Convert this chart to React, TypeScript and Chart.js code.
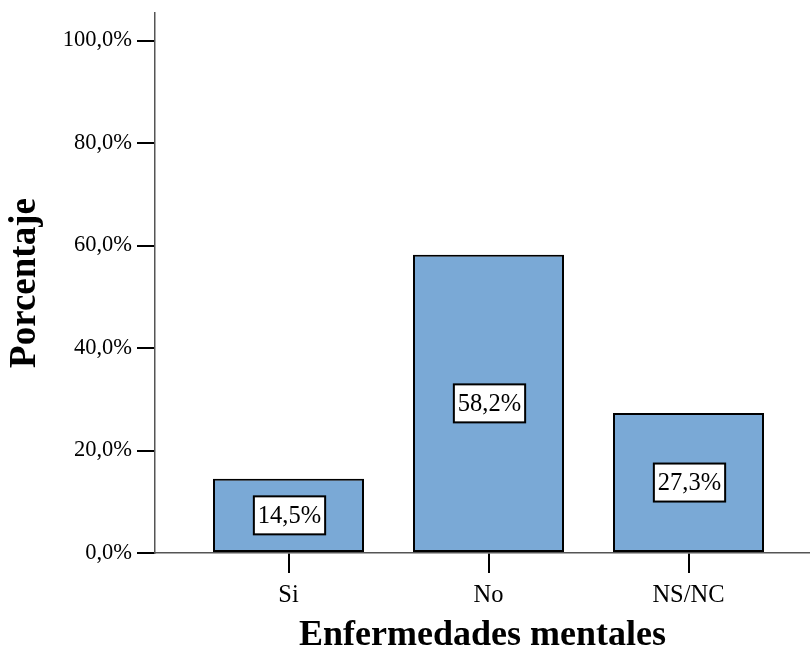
import React, { useEffect, useRef } from "react";
import { Chart, registerables } from "chart.js";

Chart.register(...registerables);

const categories = ["Si", "No", "NS/NC"];
const percentages = [14.5, 58.2, 27.3];
const valueLabels = ["14,5%", "58,2%", "27,3%"];
const yTickValues = [0, 20, 40, 60, 80, 100];
const xTitle = "Enfermedades mentales";
const yTitle = "Porcentaje";

const SERIF = "'Times New Roman', 'Liberation Serif', serif";

const boxLabelPlugin = {
  id: "boxLabels",
  afterDatasetsDraw(chart: any) {
    const ctx = chart.ctx;
    const meta = chart.getDatasetMeta(0);
    ctx.save();
    ctx.font = `24.5px ${SERIF}`;
    ctx.textAlign = "center";
    ctx.textBaseline = "middle";
    meta.data.forEach((bar: any, i: number) => {
      const text = valueLabels[i];
      const cx = bar.x + 1;
      const cy = (bar.y + bar.base) / 2;
      const w = ctx.measureText(text).width + 8;
      const h = 38;
      ctx.fillStyle = "#ffffff";
      ctx.fillRect(cx - w / 2, cy - h / 2, w, h);
      ctx.lineWidth = 2;
      ctx.strokeStyle = "#000000";
      ctx.strokeRect(cx - w / 2, cy - h / 2, w, h);
      ctx.fillStyle = "#000000";
      ctx.fillText(text, cx, cy + 1);
    });
    ctx.restore();
  },
};

export default function App() {
  const canvasRef = useRef<HTMLCanvasElement | null>(null);

  useEffect(() => {
    if (!canvasRef.current) return;
    const chart = new Chart(canvasRef.current, {
      type: "bar",
      data: {
        datasets: [
          {
            data: percentages.map((v, i) => ({ x: i, y: v })),
            backgroundColor: "#7aa9d6",
            borderColor: "#000000",
            borderWidth: 2,
            borderSkipped: false,
            barPercentage: 0.755,
            categoryPercentage: 1,
          },
        ],
      },
      options: {
        animation: false,
        responsive: false,
        devicePixelRatio: 1,
        layout: { padding: { top: 13, right: 0, left: 0, bottom: 0 } },
        plugins: {
          legend: { display: false },
          tooltip: { enabled: false },
        },
        scales: {
          x: {
            type: "linear",
            offset: false,
            min: -0.6675,
            max: 2.6075,
            afterBuildTicks: (scale: any) => {
              scale.ticks = categories.map((_, i) => ({ value: i }));
            },
            afterFit: (scale: any) => {
              scale.height = 104;
              scale.paddingLeft = 0;
              scale.paddingRight = 0;
            },
            ticks: {
              callback: (v: any) => categories[v] ?? "",
              color: "#000",
              font: { family: SERIF, size: 24.5 },
              padding: 8,
              maxRotation: 0,
              autoSkip: false,
            },
            grid: {
              offset: false,
              drawOnChartArea: false,
              drawTicks: true,
              tickLength: 20,
              color: "#000",
              lineWidth: 2,
            },
            border: { display: true, color: "#555555", width: 1.5 },
            title: {
              display: true,
              text: xTitle,
              color: "#000",
              font: { family: SERIF, size: 36, weight: "bold" },
              padding: { top: 0, bottom: 0 },
            },
          },
          y: {
            min: 0,
            max: 105.37,
            afterBuildTicks: (scale: any) => {
              scale.ticks = yTickValues.map((v) => ({ value: v }));
            },
            afterFit: (scale: any) => {
              scale.width = 155;
              scale.paddingTop = 0;
              scale.paddingBottom = 0;
            },
            ticks: {
              callback: (v: any) => `${v},0%`,
              color: "#000",
              font: { family: SERIF, size: 22.5 },
              padding: 5,
            },
            grid: {
              drawOnChartArea: false,
              drawTicks: true,
              tickLength: 18,
              color: "#000",
              lineWidth: 2,
            },
            border: { display: true, color: "#555555", width: 1.5 },
            title: {
              display: true,
              text: yTitle,
              color: "#000",
              font: { family: SERIF, size: 37, weight: "bold" },
              padding: { top: 3, bottom: 0 },
            },
          },
        },
      },
      plugins: [boxLabelPlugin],
    });
    return () => chart.destroy();
  }, []);

  return (
    <div style={{ position: "absolute", left: 0, top: 0, width: 810, height: 657, background: "#fff" }}>
      <canvas ref={canvasRef} width={810} height={657} style={{ display: "block" }} />
    </div>
  );
}
